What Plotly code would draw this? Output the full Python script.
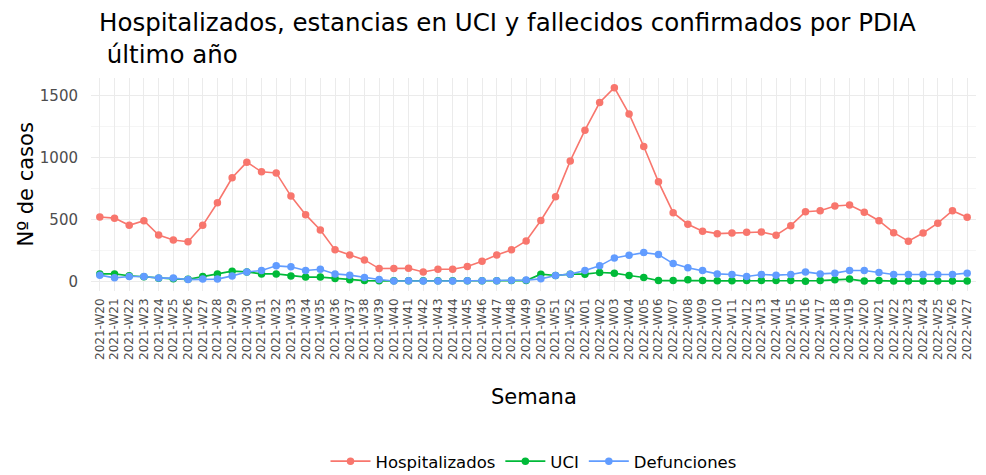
import plotly.graph_objects as go

weeks = [f"2021-W{w:02d}" for w in range(20, 53)] + [f"2022-W{w:02d}" for w in range(1, 28)]

hospitalizados = [519, 510, 452, 489, 374, 334, 320, 452, 634, 836, 962, 884, 875, 688, 538, 415,
                  254, 213, 173, 103, 103, 105, 76, 98, 98, 119, 163, 213, 254, 326, 491, 682, 972,
                  1220, 1443, 1563, 1351, 1088, 803, 554, 461, 405, 385, 390, 396, 398, 372, 449,
                  562, 570, 608, 616, 557, 489, 393, 324, 390, 469, 570, 517]
uci = [60, 60, 45, 36, 24, 20, 16, 39, 60, 82, 76, 60, 60, 44, 34, 34,
       23, 12, 6, 4, 5, 5, 5, 5, 5, 5, 5, 5, 6, 6, 58, 47, 58,
       58, 71, 66, 47, 31, 6, 6, 12, 6, 4, 4, 6, 6, 6, 6,
       0, 6, 12, 18, 2, 6, 2, 2, 2, 2, 2, 2]
defunciones = [50, 28, 39, 39, 26, 26, 14, 18, 18, 44, 76, 87, 125, 117, 87, 98,
               60, 50, 31, 15, 3, 5, 3, 3, 3, 4, 4, 5, 8, 10, 20, 47, 58,
               87, 125, 189, 211, 232, 216, 143, 109, 87, 60, 55, 39, 55, 50, 55,
               76, 60, 66, 87, 87, 71, 55, 55, 55, 55, 55, 66]

series = [("Hospitalizados", hospitalizados, "#F8766D"),
          ("UCI", uci, "#00BA38"),
          ("Defunciones", defunciones, "#619CFF")]

FONT = "DejaVu Sans, Liberation Sans, sans-serif"

fig = go.Figure()
for name, vals, col in series:
    fig.add_trace(go.Scatter(x=weeks, y=vals, name=name, mode="lines+markers",
                             line=dict(color=col, width=1.6),
                             marker=dict(color=col, size=7.5)))

fig.update_layout(
    width=978, height=467,
    paper_bgcolor="white", plot_bgcolor="white",
    font=dict(family=FONT, color="#4d4d4d"),
    margin=dict(l=83, r=10, t=70, b=184, autoexpand=False),
    legend=dict(orientation="h", x=0.5, xanchor="center", y=-0.8, yanchor="middle",
                font=dict(size=16.5, color="black"), itemwidth=40),
    showlegend=True,
    annotations=[
        dict(text="Hospitalizados, estancias en UCI y fallecidos confirmados por PDIA<br> último año",
             xref="paper", yref="paper", x=(97 - 91) / 885, y=(291 - 6) / 213,
             xanchor="left", yanchor="top", align="left", showarrow=False,
             font=dict(size=24.5, color="black", family=FONT)),
        dict(text="Semana", xref="paper", yref="paper", x=0.5, y=(291 - 397) / 213,
             xanchor="center", yanchor="middle", showarrow=False,
             font=dict(size=21, color="black", family=FONT)),
        dict(text="Nº de casos", xref="paper", yref="paper", x=(25 - 91) / 885, y=0.5,
             xanchor="center", yanchor="middle", textangle=-90, showarrow=False,
             font=dict(size=21, color="black", family=FONT)),
    ],
)
fig.update_xaxes(
    type="category", range=[-0.6, len(weeks) - 0.4], automargin=False,
    tickangle=-90, tickfont=dict(size=12, color="#4d4d4d"), ticklabelstandoff=4,
    showgrid=True, gridcolor="#ebebeb", gridwidth=1, zeroline=False,
    showline=False, ticks="",
)
fig.update_yaxes(
    range=[-78, 1641], tickvals=[0, 500, 1000, 1500], automargin=False,
    tickfont=dict(size=15, color="#4d4d4d"), ticklabelstandoff=12,
    showgrid=True, gridcolor="#ebebeb", gridwidth=1, zeroline=False,
    minor=dict(tickvals=[250, 750, 1250], showgrid=True, gridcolor="#f5f5f5", gridwidth=1),
    showline=False, ticks="",
)

fig.write_html("out.html")
